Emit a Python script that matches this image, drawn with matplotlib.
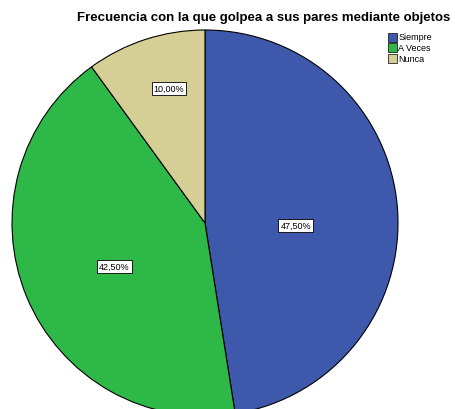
import matplotlib.pyplot as plt
import numpy as np
from matplotlib.patches import Rectangle

categories = ["Siempre", "A Veces", "Nunca"]
percentages = [47.5, 42.5, 10.0]
labels = ["47,50%", "42,50%", "10,00%"]
colors = ["#3E58AC", "#2EB848", "#D5CE95"]
title = "Frecuencia con la que golpea a sus pares mediante objetos"

plt.rcParams["font.family"] = ["Liberation Sans", "DejaVu Sans"]

fig = plt.figure(figsize=(4.55, 4.10), dpi=100)
ax = fig.add_axes([0, 0, 1, 1])

cx, cy, r = 205, 186, 193
wedges, _ = ax.pie(
    percentages,
    colors=colors,
    startangle=90,
    counterclock=False,
    center=(cx, cy),
    radius=r,
    frame=True,
    wedgeprops=dict(edgecolor="black", linewidth=0.8),
)
ax.set_xlim(0, 455)
ax.set_ylim(0, 410)
ax.axis("off")

# label radius as fraction of pie radius, angle offset (deg)
label_frac = [0.47, 0.52, 0.72]
label_shift = [-6, 3, -3]
for w, lab, f, s in zip(wedges, labels, label_frac, label_shift):
    ang = np.deg2rad((w.theta1 + w.theta2) / 2 + s)
    ax.text(
        cx + f * r * np.cos(ang),
        cy + f * r * np.sin(ang),
        lab,
        ha="center",
        va="center",
        fontsize=6.5,
        bbox=dict(facecolor="white", edgecolor="black", linewidth=0.6, pad=1.4),
    )

fig.text(264 / 455, 1 - 18 / 410, title, ha="center", va="center",
         fontsize=9.5, fontweight="bold")

# legend
for i, (cat, col) in enumerate(zip(categories, colors)):
    y = 410 - (38 + i * 10.5)
    ax.add_patch(Rectangle((387.5, y - 4.5), 9, 9, facecolor=col,
                           edgecolor="black", linewidth=0.5, clip_on=False))
    ax.text(398.5, y, cat, ha="left", va="center", fontsize=6.5)

fig.savefig("out.png", dpi=100)
